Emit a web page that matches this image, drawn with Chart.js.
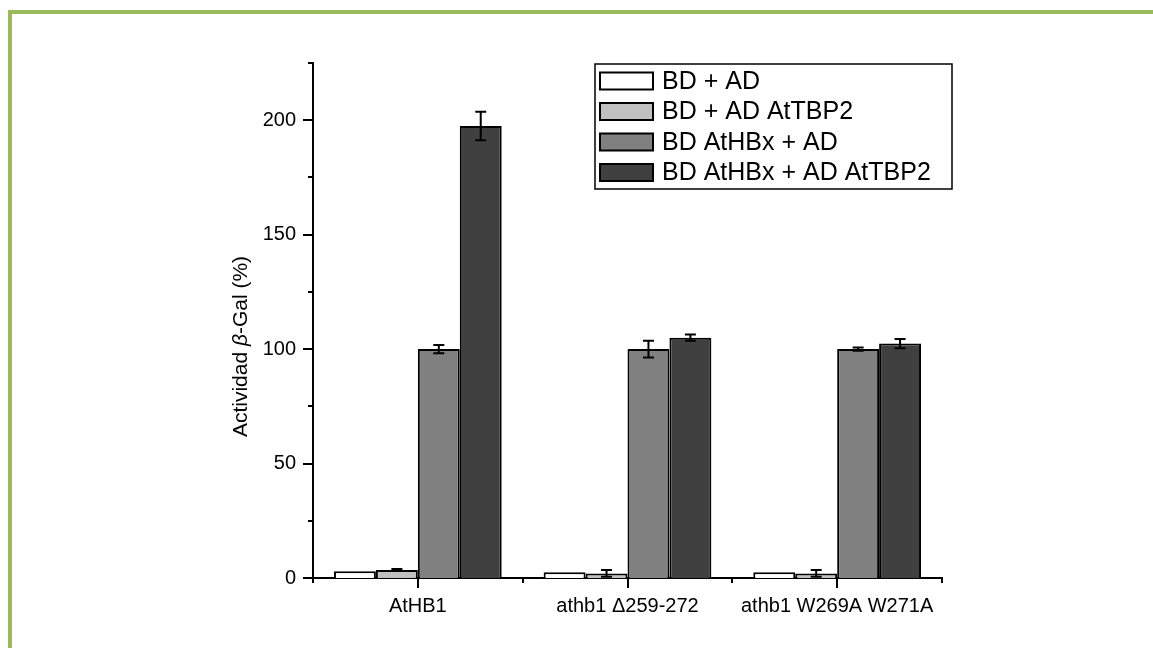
<!DOCTYPE html>
<html>
<head>
<meta charset="utf-8">
<title>Actividad β-Gal</title>
<script src="https://cdn.jsdelivr.net/npm/chart.js@4.4.1/dist/chart.umd.min.js"></script>
<style>
  html, body { margin: 0; padding: 0; background: #fff; }
  #wrap { position: relative; width: 1153px; height: 648px; overflow: hidden; }
  #frame {
    position: absolute; left: 8px; top: 10px; right: 0; bottom: 0;
    border-top: 4px solid #9bbb59; border-left: 4px solid #9bbb59;
  }
  #chart { position: absolute; left: 0; top: 0; }
</style>
</head>
<body>
<div id="wrap">
  <div id="frame"></div>
  <canvas id="chart" width="1153" height="648"></canvas>
</div>
<script>
// Construcciones evaluadas
const categorias = ['AtHB1', 'athb1 Δ259-272', 'athb1 W269A W271A'];

// Nombre de cada combinación BD / AD
const series = ['BD + AD', 'BD + AD AtTBP2', 'BD AtHBx + AD', 'BD AtHBx + AD AtTBP2'];

// Actividad β-Gal (%) por combinación
const bdAd          = [3, 2.5, 2.5];
const bdAdTbp2      = [3.5, 2, 2];
const bdHbxAd       = [100, 100, 100];
const bdHbxAdTbp2   = [197.5, 105, 102.4];

// Error estándar de cada barra
const errBdAd        = [0, 0, 0];
const errBdAdTbp2    = [0.4, 1.5, 1.5];
const errBdHbxAd     = [1.8, 3.7, 0.7];
const errBdHbxAdTbp2 = [6.2, 1.4, 2];

// Marcas del eje Y
const yMin = 0;
const yMax = 225;
const yPaso = 25;
const yEtiquetaCada = 50;

const FUENTE = '"Liberation Sans", Arial, Helvetica, sans-serif';

// Barras de error con remate horizontal
const errorBars = {
    id: 'errorBars',
    afterDatasetsDraw(chart) {
        const ctx = chart.ctx;
        const y = chart.scales.y;
        ctx.save();
        ctx.strokeStyle = '#000';
        ctx.lineWidth = 2;
        chart.data.datasets.forEach((ds, i) => {
            const meta = chart.getDatasetMeta(i);
            meta.data.forEach((bar, j) => {
                const e = ds.errores[j];
                if (!e) return;
                const yTop = y.getPixelForValue(ds.data[j] + e);
                const yBot = y.getPixelForValue(ds.data[j] - e);
                const half = 5.5;
                ctx.beginPath();
                ctx.moveTo(bar.x, yTop); ctx.lineTo(bar.x, yBot);
                ctx.moveTo(bar.x - half, yTop); ctx.lineTo(bar.x + half, yTop);
                ctx.moveTo(bar.x - half, yBot); ctx.lineTo(bar.x + half, yBot);
                ctx.stroke();
            });
        });
        ctx.restore();
    }
};

// Marcas mayores y menores hacia afuera en ambos ejes
const axisTicks = {
    id: 'axisTicks',
    afterDraw(chart) {
        const ctx = chart.ctx;
        const area = chart.chartArea;
        const x = chart.scales.x;
        const y = chart.scales.y;
        ctx.save();
        ctx.strokeStyle = '#000';
        ctx.lineWidth = 2;
        ctx.beginPath();
        y.ticks.forEach(t => {
            const py = Math.round(y.getPixelForValue(t.value));
            const len = t.value % yEtiquetaCada === 0 ? 10 : 5;
            ctx.moveTo(area.left - len, py);
            ctx.lineTo(area.left, py);
        });
        categorias.forEach((c, i) => {
            const px = Math.round(x.getPixelForValue(i));
            ctx.moveTo(px, area.bottom);
            ctx.lineTo(px, area.bottom + 10);
        });
        const ancho = (area.right - area.left) / categorias.length;
        for (let k = 0; k <= categorias.length; k++) {
            const px = Math.round(area.left + k * ancho);
            ctx.moveTo(px, area.bottom);
            ctx.lineTo(px, area.bottom + 5);
        }
        ctx.stroke();
        ctx.restore();
    }
};

// Título del eje Y con la beta en cursiva
const yTitle = {
    id: 'yTitle',
    afterDraw(chart) {
        const ctx = chart.ctx;
        const area = chart.chartArea;
        const partes = [['Actividad ', ''], ['β', 'italic '], ['-Gal (%)', '']];
        ctx.save();
        ctx.translate(area.left - 72, (area.top + area.bottom) / 2 + 26);
        ctx.rotate(-Math.PI / 2);
        ctx.fillStyle = '#000';
        ctx.textBaseline = 'middle';
        let total = 0;
        partes.forEach(p => {
            ctx.font = p[1] + '21px ' + FUENTE;
            total += ctx.measureText(p[0]).width;
        });
        let pos = -total / 2;
        partes.forEach(p => {
            ctx.font = p[1] + '21px ' + FUENTE;
            ctx.fillText(p[0], pos, 0);
            pos += ctx.measureText(p[0]).width;
        });
        ctx.restore();
    }
};

// Leyenda enmarcada en la esquina superior derecha
const legendBox = {
    id: 'legendBox',
    afterDraw(chart) {
        const ctx = chart.ctx;
        const area = chart.chartArea;
        const w = 357, h = 125, fila = 30.5;
        const right = area.right + 10;
        const left = right - w;
        const top = area.top + 1;
        ctx.save();
        ctx.fillStyle = '#fff';
        ctx.fillRect(left, top, w, h);
        ctx.strokeStyle = '#000';
        ctx.lineWidth = 1.5;
        ctx.strokeRect(left, top, w, h);
        ctx.font = '25px ' + FUENTE;
        ctx.textBaseline = 'middle';
        chart.data.datasets.forEach((ds, i) => {
            const cy = top + 17 + i * fila;
            ctx.fillStyle = ds.backgroundColor;
            ctx.fillRect(left + 5, cy - 8.5, 53, 17);
            ctx.lineWidth = 2;
            ctx.strokeRect(left + 5, cy - 8.5, 53, 17);
            ctx.fillStyle = '#000';
            ctx.fillText(ds.label, left + 67, cy + 1);
        });
        ctx.restore();
    }
};

const colores = ['#ffffff', '#c0c0c0', '#808080', '#404040'];
const valores = [bdAd, bdAdTbp2, bdHbxAd, bdHbxAdTbp2];
const errores = [errBdAd, errBdAdTbp2, errBdHbxAd, errBdHbxAdTbp2];

const datasets = series.map((nombre, i) => ({
    label: nombre,
    data: valores[i],
    errores: errores[i],
    backgroundColor: colores[i],
    borderColor: '#000',
    borderWidth: 2,
    borderSkipped: 'bottom',
    barPercentage: 1.0,
    categoryPercentage: 0.8
}));

new Chart(document.getElementById('chart'), {
    type: 'bar',
    data: {
        labels: categorias,
        datasets: datasets
    },
    options: {
        responsive: false,
        devicePixelRatio: 1,
        animation: false,
        layout: {
            padding: { left: 200, right: 211, top: 63, bottom: 20 }
        },
        plugins: {
            legend: { display: false },
            tooltip: { enabled: false }
        },
        scales: {
            x: {
                grid: { display: false, drawTicks: false },
                border: { display: true, color: '#000', width: 2 },
                ticks: {
                    color: '#000',
                    padding: 16,
                    maxRotation: 0,
                    font: { family: FUENTE, size: 20 }
                },
                afterFit: function(scale) { scale.height = 50; }
            },
            y: {
                min: yMin,
                max: yMax,
                grid: { display: false, drawTicks: false },
                border: { display: true, color: '#000', width: 2 },
                ticks: {
                    stepSize: yPaso,
                    color: '#000',
                    padding: 17,
                    font: { family: FUENTE, size: 20 },
                    callback: function(value) {
                        return value % yEtiquetaCada === 0 ? value : '';
                    }
                },
                afterFit: function(scale) { scale.width = 113; }
            }
        }
    },
    plugins: [errorBars, axisTicks, yTitle, legendBox]
});
</script>
</body>
</html>
